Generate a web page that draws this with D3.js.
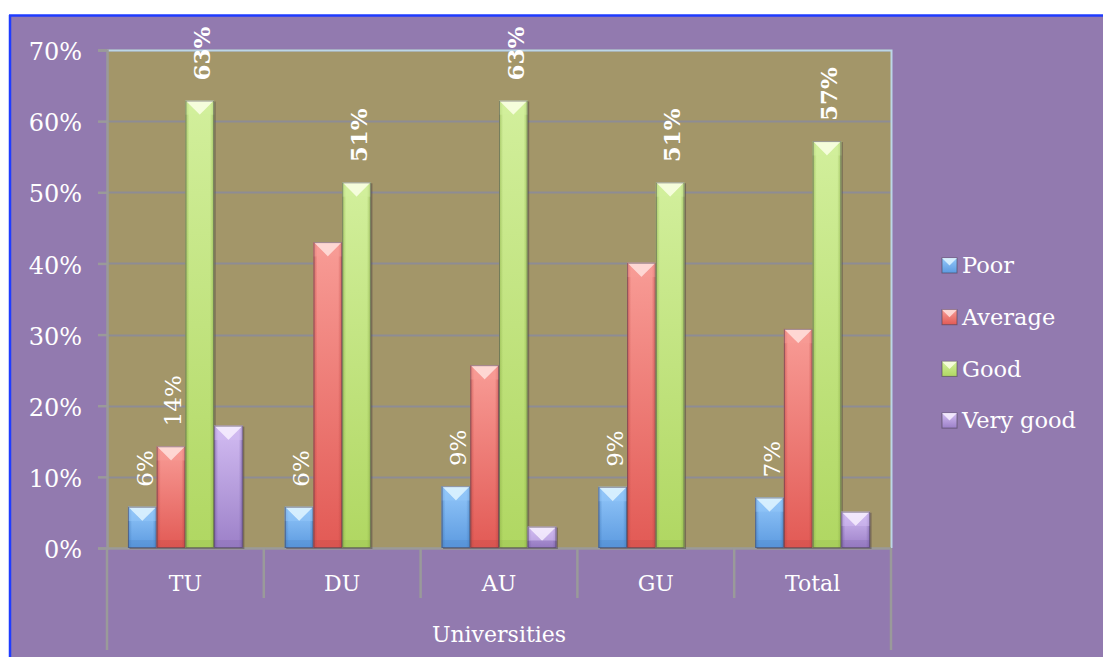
<!DOCTYPE html>
<html>
<head>
<meta charset="utf-8">
<script src="https://cdn.jsdelivr.net/npm/d3@7"></script>
<style>
  html, body { margin: 0; padding: 0; background: #ffffff; }
  svg { display: block; }
  text { font-family: "DejaVu Serif", "Liberation Serif", serif; fill: #ffffff; }
</style>
</head>
<body>
<svg id="chart" width="1103" height="657"></svg>
<script>
// Ratings of universities, share of respondents per rating
const universities = ["TU", "DU", "AU", "GU", "Total"];
const ratings = ["Poor", "Average", "Good", "Very good"];
const poor     = [0.058, 0.058, 0.087, 0.086, 0.071];
const average  = [0.143, 0.430, 0.257, 0.401, 0.308];
const good     = [0.629, 0.514, 0.629, 0.514, 0.572];
const veryGood = [0.172, 0,     0.030, 0,     0.051];
const yTicks   = [0, 0.1, 0.2, 0.3, 0.4, 0.5, 0.6, 0.7];
// which bars carry a value label
const labelled = {
  "Poor": ["TU", "DU", "AU", "GU", "Total"],
  "Average": ["TU"],
  "Good": ["TU", "DU", "AU", "GU", "Total"],
  "Very good": []
};

const seriesValues = [poor, average, good, veryGood];
const palette = {
  "Poor":      { base: "#5c9ae0", light: "#94c8fa", edge: "#3f78b8", top: "#e2f6ff" },
  "Average":   { base: "#e25a55", light: "#f89c96", edge: "#b8423e", top: "#ffe2de" },
  "Good":      { base: "#b0d762", light: "#d2ef9c", edge: "#86aa42", top: "#fbffe6" },
  "Very good": { base: "#9c80c8", light: "#d2bcf2", edge: "#7158a0", top: "#f8f0ff" }
};

const svg = d3.select("#chart");
const W = 1103, H = 657;
const plot = { left: 107, right: 891, top: 50, bottom: 548 };

// chart background with blue frame
svg.append("rect").attr("x", 0).attr("y", 0).attr("width", W).attr("height", H).attr("fill", "#ffffff");
svg.append("rect").attr("x", 10).attr("y", 16).attr("width", W - 10).attr("height", H - 16).attr("fill", "#927aaf");
svg.append("line").attr("x1", 9).attr("x2", W).attr("y1", 15.5).attr("y2", 15.5)
  .attr("stroke", "#1f3cff").attr("stroke-width", 2.5);
svg.append("line").attr("x1", 10).attr("x2", 10).attr("y1", 15).attr("y2", H)
  .attr("stroke", "#1f3cff").attr("stroke-width", 2.5);

const x = d3.scaleBand().domain(universities).range([plot.left, plot.right]).paddingInner(0).paddingOuter(0);
const xs = d3.scaleBand().domain(ratings).range([0, x.bandwidth()]).paddingInner(0).paddingOuter(0.73);
const y = d3.scaleLinear().domain([0, 0.7]).range([plot.bottom, plot.top]);

// plot area
svg.append("rect").attr("x", plot.left).attr("y", plot.top)
  .attr("width", plot.right - plot.left).attr("height", plot.bottom - plot.top)
  .attr("fill", "#a39669");

// gridlines
svg.append("g").selectAll("line").data(yTicks.filter(t => t > 0)).join("line")
  .attr("x1", plot.left).attr("x2", plot.right)
  .attr("y1", d => Math.round(y(d)) + 0.5).attr("y2", d => Math.round(y(d)) + 0.5)
  .attr("stroke", "#8e8c94").attr("stroke-width", 2);

// plot border (top and right)
svg.append("path")
  .attr("d", `M${plot.left},${plot.top + 0.5}H${plot.right + 0.5}V${plot.bottom}`)
  .attr("fill", "none").attr("stroke", "#bcd6e6").attr("stroke-width", 2);

// y axis
const yAxis = d3.axisLeft(y).tickValues(yTicks).tickFormat(d3.format(".0%")).tickSize(9).tickPadding(16);
const gy = svg.append("g").attr("transform", `translate(${plot.left},0)`).call(yAxis);
gy.select(".domain").attr("stroke", "#9a9a9a").attr("stroke-width", 2.5);
gy.selectAll(".tick line").attr("stroke", "#9a9a9a").attr("stroke-width", 2.5);
gy.selectAll(".tick text").attr("fill", "#ffffff").style("font-size", "24px")
  .style("font-family", "'DejaVu Serif', serif").attr("dy", "0.4em");

// category axis with group separators
const gx = svg.append("g");
gx.append("line").attr("x1", plot.left).attr("x2", plot.right)
  .attr("y1", plot.bottom + 0.5).attr("y2", plot.bottom + 0.5)
  .attr("stroke", "#9a9a9a").attr("stroke-width", 2.5);
const bounds = universities.map(u => x(u)).concat([plot.right]);
gx.selectAll("line.sep").data(bounds).join("line").attr("class", "sep")
  .attr("x1", d => d).attr("x2", d => d)
  .attr("y1", plot.bottom)
  .attr("y2", (d, i) => (i === 0 || i === bounds.length - 1) ? 650 : 598)
  .attr("stroke", "#9a9a9a").attr("stroke-width", 2.5);
gx.selectAll("text.cat").data(universities).join("text").attr("class", "cat")
  .attr("x", d => x(d) + x.bandwidth() / 2).attr("y", 591)
  .attr("text-anchor", "middle").style("font-size", "22px").text(d => d);
svg.append("text").attr("x", (plot.left + plot.right) / 2).attr("y", 642)
  .attr("text-anchor", "middle").style("font-size", "22px").text("Universities");

// bar gradients
const defs = svg.append("defs");
ratings.forEach((r, i) => {
  const c = palette[r];
  const g = defs.append("linearGradient").attr("id", "g" + i).attr("x1", 0).attr("x2", 0).attr("y1", 0).attr("y2", 1);
  g.append("stop").attr("offset", "0%").attr("stop-color", c.light);
  g.append("stop").attr("offset", "100%").attr("stop-color", c.base);
  const h = defs.append("linearGradient").attr("id", "h" + i);
  h.append("stop").attr("offset", "0%").attr("stop-color", c.edge).attr("stop-opacity", 0.6);
  h.append("stop").attr("offset", "14%").attr("stop-color", c.edge).attr("stop-opacity", 0);
  h.append("stop").attr("offset", "86%").attr("stop-color", c.edge).attr("stop-opacity", 0);
  h.append("stop").attr("offset", "100%").attr("stop-color", c.edge).attr("stop-opacity", 0.6);
});

const bars = [];
ratings.forEach((r, si) => {
  universities.forEach((u, ci) => {
    bars.push({ rating: r, si, uni: u, value: seriesValues[si][ci] });
  });
});

const bw = xs.bandwidth();
const gBars = svg.append("g");
bars.filter(d => d.value > 0).forEach(d => {
  const x0 = x(d.uni) + xs(d.rating);
  const top = y(d.value);
  const hgt = plot.bottom - top;
  const c = palette[d.rating];
  const g = gBars.append("g");
  // shadow
  g.append("rect").attr("x", x0 + 1.5).attr("y", top + 1).attr("width", bw).attr("height", hgt)
    .attr("fill", "#2a2030").attr("opacity", 0.35);
  g.append("rect").attr("x", x0).attr("y", top).attr("width", bw).attr("height", hgt)
    .attr("fill", `url(#g${d.si})`);
  g.append("rect").attr("x", x0).attr("y", top).attr("width", bw).attr("height", hgt)
    .attr("fill", `url(#h${d.si})`);
  // bevel at the top
  const bd = Math.min(bw * 0.5, hgt);
  g.append("path")
    .attr("d", `M${x0},${top}L${x0 + bw},${top}L${x0 + bw / 2},${top + bd}Z`)
    .attr("fill", c.top).attr("opacity", 0.85);
  g.append("path")
    .attr("d", `M${x0},${top}L${x0 + bw / 2},${top + bd}L${x0},${top + bd}Z`)
    .attr("fill", c.light).attr("opacity", 0.5);
  g.append("path")
    .attr("d", `M${x0 + bw},${top}L${x0 + bw / 2},${top + bd}L${x0 + bw},${top + bd}Z`)
    .attr("fill", c.light).attr("opacity", 0.5);
  // darker foot
  g.append("rect").attr("x", x0).attr("y", plot.bottom - Math.min(8, hgt)).attr("width", bw)
    .attr("height", Math.min(8, hgt)).attr("fill", c.edge).attr("opacity", 0.2);
  g.append("rect").attr("x", x0 + 0.5).attr("y", top + 0.5).attr("width", bw - 1).attr("height", hgt - 1)
    .attr("fill", "none").attr("stroke", "#4a3f52").attr("stroke-opacity", 0.55).attr("stroke-width", 1);
});

// value labels
const fmt = d3.format(".0%");
svg.append("g").selectAll("text").data(bars.filter(d => labelled[d.rating].includes(d.uni))).join("text")
  .attr("transform", d => `translate(${x(d.uni) + xs(d.rating) + bw / 2 + 2},${y(d.value) - 20}) rotate(-90)`)
  .attr("dy", "0.36em")
  .style("font-size", "23px")
  .style("font-weight", d => d.rating === "Good" ? "bold" : "normal")
  .text(d => fmt(d.value));

// legend
const lg = svg.append("g").attr("transform", "translate(942,265)");
const items = lg.selectAll("g").data(ratings).join("g")
  .attr("transform", (d, i) => `translate(0,${i * 51.7})`);
items.append("rect").attr("x", 0).attr("y", -7).attr("width", 15).attr("height", 15)
  .attr("fill", (d, i) => `url(#g${i})`).attr("stroke", "#4a3f52").attr("stroke-opacity", 0.6);
items.append("path").attr("d", "M0,-7L15,-7L7.5,0.5Z").attr("fill", d => palette[d].top).attr("opacity", 0.85);
items.append("text").attr("x", 20).attr("y", 0).attr("dy", "0.36em")
  .style("font-size", "22.5px").text(d => d);
</script>
</body>
</html>
